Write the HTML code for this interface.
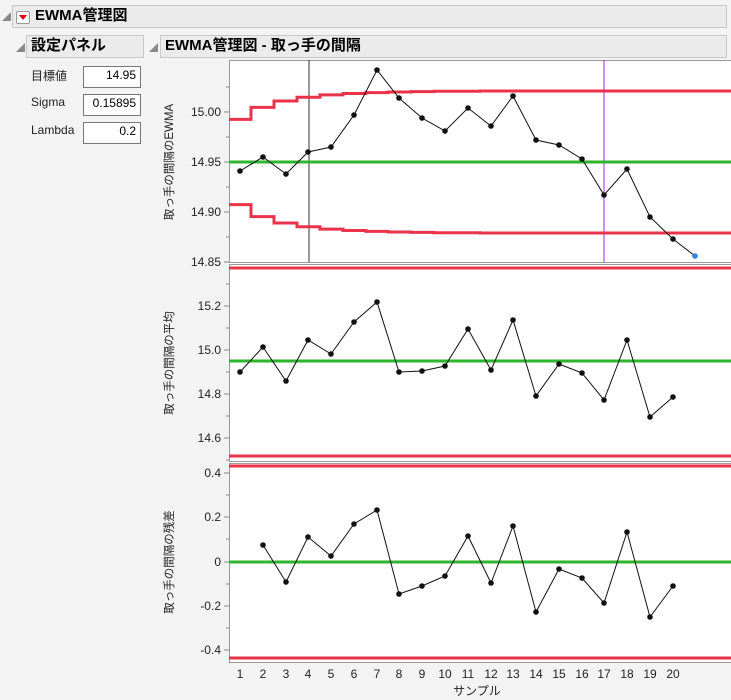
<!DOCTYPE html>
<html><head><meta charset="utf-8"><style>
body{margin:0;width:731px;height:700px;background:#f3f3f3;font-family:"Liberation Sans","Noto Sans CJK JP",sans-serif;overflow:hidden;position:relative}
.bar{position:absolute;background:#ebebeb;border:1px solid #c8c8c8;font-weight:bold;font-size:15px;box-sizing:border-box;padding-left:4px;line-height:20px}
.lbl{position:absolute;font-size:12px;color:#222}
.box{position:absolute;background:#fff;border:1px solid #777;font-size:12px;text-align:right;padding-right:4px;box-sizing:border-box;line-height:16px;width:58px;height:22px}
.tri{position:absolute;font-size:9px;color:#888}
</style></head><body>
<div class="tri" style="left:2px;top:10px">◢</div>
<div class="bar" style="left:12px;top:5px;width:715px;height:23px;padding-left:22px">EWMA管理図</div>
<div style="position:absolute;left:16px;top:11px;width:12px;height:11px;border:1px solid #999;background:#fff;border-radius:2px"><div style="margin:3px auto 0;width:0;height:0;border-left:4px solid transparent;border-right:4px solid transparent;border-top:5px solid #d00"></div></div>
<div class="tri" style="left:16px;top:41px">◢</div>
<div class="bar" style="left:26px;top:35px;width:118px;height:23px">設定パネル</div>
<div class="tri" style="left:149px;top:41px">◢</div>
<div class="bar" style="left:160px;top:35px;width:567px;height:23px">EWMA管理図 - 取っ手の間隔</div>
<div class="lbl" style="left:31px;top:67px">目標値</div><div class="box" style="left:83px;top:66px">14.95</div>
<div class="lbl" style="left:31px;top:95px">Sigma</div><div class="box" style="left:83px;top:94px">0.15895</div>
<div class="lbl" style="left:31px;top:123px">Lambda</div><div class="box" style="left:83px;top:122px">0.2</div>
<svg width="731" height="700" style="position:absolute;left:0;top:0" font-family="Liberation Sans, Noto Sans CJK JP, sans-serif" font-size="12">
<rect x="229" y="60" width="502" height="603" fill="#fff"/>
<g stroke="#999" fill="none"><rect x="229.5" y="60.5" width="502" height="202"/><rect x="229.5" y="264.5" width="502" height="197"/><rect x="229.5" y="463.5" width="502" height="199"/></g>
<!-- ticks -->
<g stroke="#888">
<path d="M224 112H229M224 162H229M224 212H229M224 262H229M226 87H229M226 137H229M226 187H229M226 237H229"/>
<path d="M224 306H229M224 350H229M224 394H229M224 438H229M226 284H229M226 328H229M226 372H229M226 416H229M226 460H229"/>
<path d="M224 473H229M224 517H229M224 562H229M224 606H229M224 650H229M226 495H229M226 539H229M226 584H229M226 628H229"/>
</g>
<g text-anchor="end" fill="#222">
<text x="221" y="116">15.00</text><text x="221" y="166">14.95</text><text x="221" y="216">14.90</text><text x="221" y="266">14.85</text>
<text x="221" y="310">15.2</text><text x="221" y="354">15.0</text><text x="221" y="398">14.8</text><text x="221" y="442">14.6</text>
<text x="221" y="477">0.4</text><text x="221" y="521">0.2</text><text x="221" y="566">0</text><text x="221" y="610">-0.2</text><text x="221" y="654">-0.4</text>
</g>
<g text-anchor="middle" fill="#222" font-size="12">
<text x="240" y="678">1</text><text x="263" y="678">2</text><text x="286" y="678">3</text><text x="308" y="678">4</text><text x="331" y="678">5</text><text x="354" y="678">6</text><text x="377" y="678">7</text><text x="399" y="678">8</text><text x="422" y="678">9</text><text x="445" y="678">10</text><text x="468" y="678">11</text><text x="491" y="678">12</text><text x="513" y="678">13</text><text x="536" y="678">14</text><text x="559" y="678">15</text><text x="582" y="678">16</text><text x="604" y="678">17</text><text x="627" y="678">18</text><text x="650" y="678">19</text><text x="673" y="678">20</text>
<text x="477" y="695">サンプル</text>
</g>
<g fill="#222" font-size="11.5" text-anchor="middle">
<text transform="translate(173,162) rotate(-90)">取っ手の間隔のEWMA</text>
<text transform="translate(173,363) rotate(-90)">取っ手の間隔の平均</text>
<text transform="translate(173,562) rotate(-90)">取っ手の間隔の残差</text>
</g>
<!-- top chart -->
<line x1="309" y1="60" x2="309" y2="262" stroke="#333" stroke-width="1"/>
<line x1="604" y1="60" x2="604" y2="262" stroke="#a020f0" stroke-width="1"/>
<line x1="229" y1="162" x2="731" y2="162" stroke="#2db52d" stroke-width="3"/>
<g stroke="#e8334a" stroke-width="3" fill="none">
<path d="M229 119.4H251V107.4H274V101H297V97.2H320V94.9H343V93.5H366V92.6H388V92H411V91.6H434V91.3H480V91H731"/>
<path d="M229 204.6H251V216.6H274V223H297V226.8H320V229.1H343V230.5H366V231.4H388V232H411V232.4H434V232.7H480V233H731"/>
</g>
<polyline fill="none" stroke="#111" stroke-width="1" points="240,171 263,157 286,174 308,152 331,147 354,115 377,70 399,98 422,118 445,131 468,108 491,126 513,96 536,140 559,145 582,159 604,195 627,169 650,217 673,239 695,256"/>
<g fill="#111">
<circle cx="240" cy="171" r="2.8"/><circle cx="263" cy="157" r="2.8"/><circle cx="286" cy="174" r="2.8"/><circle cx="308" cy="152" r="2.8"/><circle cx="331" cy="147" r="2.8"/><circle cx="354" cy="115" r="2.8"/><circle cx="377" cy="70" r="2.8"/><circle cx="399" cy="98" r="2.8"/><circle cx="422" cy="118" r="2.8"/><circle cx="445" cy="131" r="2.8"/><circle cx="468" cy="108" r="2.8"/><circle cx="491" cy="126" r="2.8"/><circle cx="513" cy="96" r="2.8"/><circle cx="536" cy="140" r="2.8"/><circle cx="559" cy="145" r="2.8"/><circle cx="582" cy="159" r="2.8"/><circle cx="604" cy="195" r="2.8"/><circle cx="627" cy="169" r="2.8"/><circle cx="650" cy="217" r="2.8"/><circle cx="673" cy="239" r="2.8"/>
</g>
<circle cx="695" cy="256" r="2.8" fill="#3a7ee8"/>
<!-- middle -->
<line x1="229" y1="361" x2="731" y2="361" stroke="#2db52d" stroke-width="3"/>
<line x1="229" y1="268" x2="731" y2="268" stroke="#e8334a" stroke-width="3"/>
<line x1="229" y1="456" x2="731" y2="456" stroke="#e8334a" stroke-width="3"/>
<polyline fill="none" stroke="#111" stroke-width="1" points="240,372 263,347 286,381 308,340 331,354 354,322 377,302 399,372 422,371 445,366 468,329 491,370 513,320 536,396 559,364 582,373 604,400 627,340 650,417 673,397"/>
<g fill="#111">
<circle cx="240" cy="372" r="2.8"/><circle cx="263" cy="347" r="2.8"/><circle cx="286" cy="381" r="2.8"/><circle cx="308" cy="340" r="2.8"/><circle cx="331" cy="354" r="2.8"/><circle cx="354" cy="322" r="2.8"/><circle cx="377" cy="302" r="2.8"/><circle cx="399" cy="372" r="2.8"/><circle cx="422" cy="371" r="2.8"/><circle cx="445" cy="366" r="2.8"/><circle cx="468" cy="329" r="2.8"/><circle cx="491" cy="370" r="2.8"/><circle cx="513" cy="320" r="2.8"/><circle cx="536" cy="396" r="2.8"/><circle cx="559" cy="364" r="2.8"/><circle cx="582" cy="373" r="2.8"/><circle cx="604" cy="400" r="2.8"/><circle cx="627" cy="340" r="2.8"/><circle cx="650" cy="417" r="2.8"/><circle cx="673" cy="397" r="2.8"/>
</g>
<!-- bottom -->
<line x1="229" y1="562" x2="731" y2="562" stroke="#2db52d" stroke-width="3"/>
<line x1="229" y1="466" x2="731" y2="466" stroke="#e8334a" stroke-width="3"/>
<line x1="229" y1="658" x2="731" y2="658" stroke="#e8334a" stroke-width="3"/>
<polyline fill="none" stroke="#111" stroke-width="1" points="263,545 286,582 308,537 331,556 354,524 377,510 399,594 422,586 445,576 468,536 491,583 513,526 536,612 559,569 582,578 604,603 627,532 650,617 673,586"/>
<g fill="#111">
<circle cx="263" cy="545" r="2.8"/><circle cx="286" cy="582" r="2.8"/><circle cx="308" cy="537" r="2.8"/><circle cx="331" cy="556" r="2.8"/><circle cx="354" cy="524" r="2.8"/><circle cx="377" cy="510" r="2.8"/><circle cx="399" cy="594" r="2.8"/><circle cx="422" cy="586" r="2.8"/><circle cx="445" cy="576" r="2.8"/><circle cx="468" cy="536" r="2.8"/><circle cx="491" cy="583" r="2.8"/><circle cx="513" cy="526" r="2.8"/><circle cx="536" cy="612" r="2.8"/><circle cx="559" cy="569" r="2.8"/><circle cx="582" cy="578" r="2.8"/><circle cx="604" cy="603" r="2.8"/><circle cx="627" cy="532" r="2.8"/><circle cx="650" cy="617" r="2.8"/><circle cx="673" cy="586" r="2.8"/>
</g>
</svg>
</body></html>
